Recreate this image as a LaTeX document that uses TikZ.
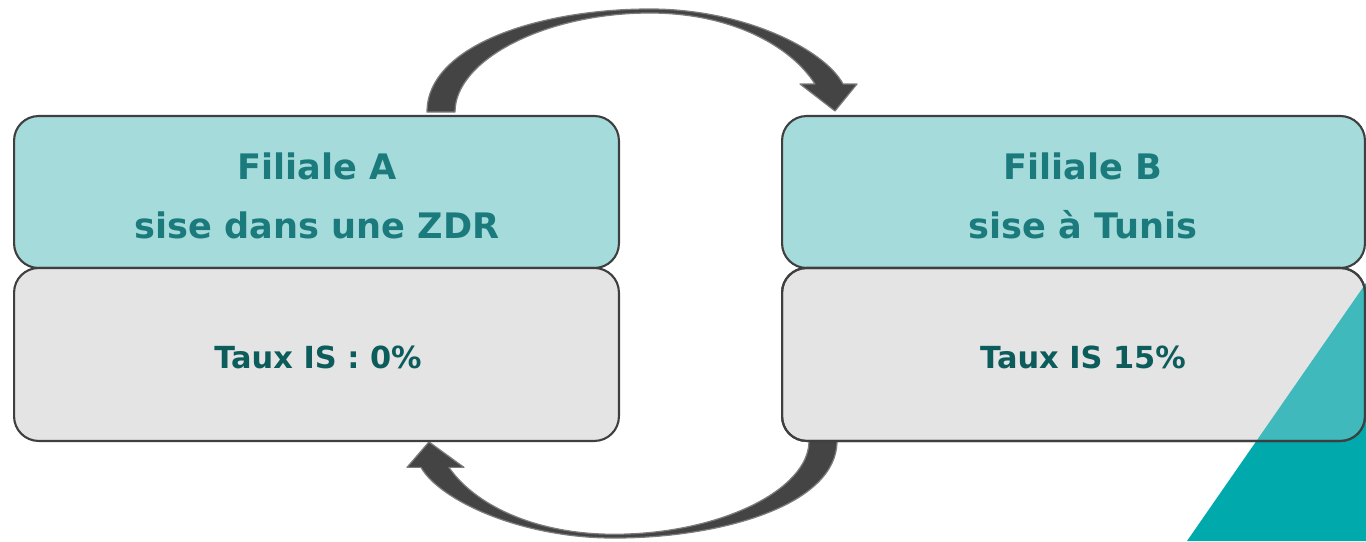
\documentclass[tikz,border=0pt]{standalone}
\usepackage{fontspec}
\setmainfont{DejaVu Sans}
\usetikzlibrary{positioning}
\definecolor{paleteal}{HTML}{A6DBDC}
\definecolor{palegrey}{HTML}{E4E4E4}
\definecolor{edgegrey}{HTML}{3F3F3F}
\definecolor{arrowgrey}{HTML}{444444}
\definecolor{titleteal}{HTML}{1A7A7C}
\definecolor{rateteal}{HTML}{0D5C5C}
\definecolor{cornerteal}{HTML}{00A9AC}
\tikzset{
  box/.style={draw=edgegrey, line width=1.2pt, rounded corners=14pt, inner sep=0pt, outer sep=0pt},
  tealbox/.style={box, fill=paleteal, minimum height=3.04cm},
  greybox/.style={box, fill=palegrey, minimum height=3.46cm},
  titletext/.style={text=titleteal, align=center, font=\fontsize{20}{33.5}\selectfont\bfseries},
  ratetext/.style={text=rateteal, font=\fontsize{17.3}{20}\selectfont\bfseries},
  arrowbody/.style={fill=arrowgrey, draw=arrowgrey!70!white, line width=0.7pt, line join=round},
  bentarrow/.pic={
    \filldraw[arrowbody] (427,112) .. controls (427,45) and (540,9) .. (650,9)
      .. controls (745,9) and (825,50) .. (843,84)
      -- (857,84) -- (835,111) -- (800,84) -- (815,84)
      .. controls (790,45) and (730,13) .. (650,13)
      .. controls (545,13) and (455,60) .. (455,112) -- cycle;
  }
}
\begin{document}
\begin{tikzpicture}[x=0.02cm, y=-0.02cm]
\useasboundingbox (0,0) rectangle (1366,541);
\fill[cornerteal] (1366,283) -- (1366,541) -- (1187,541) -- cycle;
\pic at (0,0) {bentarrow};
\begin{scope}[shift={(1264,546.5)}, xscale=-1, yscale=-0.942, transform shape]
\pic[transform shape] at (0,0) {bentarrow};
\end{scope}
\node[tealbox, minimum width=12.1cm] (boxAtop) at (316.5,192) {};
\node[greybox, minimum width=12.1cm, below=0pt of boxAtop] (boxAlow) {};
\node[tealbox, minimum width=11.66cm] (boxBtop) at (1073.5,192) {};
\node[greybox, minimum width=11.66cm, below=0pt of boxBtop] (boxBlow) {};
\begin{scope}
\clip[rounded corners=14pt] (boxBlow.south west) rectangle (boxBlow.north east);
\fill[cornerteal, fill opacity=0.72] (1366,283) -- (1366,541) -- (1187,541) -- cycle;
\end{scope}
\draw[box] (boxBlow.south west) rectangle (boxBlow.north east);
\node[titletext] (nameA) at (317,196) {Filiale A\\sise dans une ZDR};
\node[ratetext] (rateA) at (318,357) {Taux IS : 0\%};
\node[titletext] (nameB) at (1083,196) {Filiale B\\sise à Tunis};
\node[ratetext] (rateB) at (1083,357) {Taux IS 15\%};
\end{tikzpicture}
\end{document}
